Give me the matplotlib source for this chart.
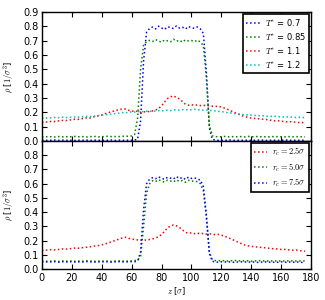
import numpy as np
import matplotlib
matplotlib.use("Agg")
import matplotlib.pyplot as plt

plt.rcParams['mathtext.fontset'] = 'cm'
plt.rcParams['font.family'] = ['DejaVu Sans']
plt.rcParams['font.size'] = 7

z = np.arange(0, 177, 2)

# ---- top panel: temperatures ----
rho_T07 = [0.005,0.006,0.004,0.005,0.007,0.005,0.004,0.006,0.005,0.005,0.006,0.004,0.005,0.007,0.005,0.006,
           0.004,0.005,0.006,0.005,0.004,0.006,0.005,0.007,0.005,0.004,0.006,0.005,0.005,0.006,0.005,0.007,
           0.012,0.14,0.56,0.76,0.785,
           0.795,0.782,0.801,0.789,0.778,0.797,0.792,0.785,0.803,0.788,0.794,0.781,0.799,0.790,0.786,0.796,
           0.782,0.75,0.48,0.09,0.012,
           0.006,0.005,0.004,0.006,0.005,0.007,0.005,0.004,0.006,0.005,0.005,0.006,0.004,0.005,0.007,0.005,
           0.006,0.004,0.005,0.006,0.005,0.004,0.006,0.005,0.007,0.005,0.004,0.006,0.005,0.005,0.006]
rho_T085 = [0.028,0.031,0.029,0.030,0.027,0.032,0.030,0.029,0.031,0.028,0.030,0.032,0.029,0.031,0.030,0.028,
            0.031,0.030,0.032,0.029,0.031,0.030,0.033,0.031,0.030,0.032,0.031,0.033,0.032,0.034,0.035,
            0.045,0.16,0.50,0.67,0.693,
            0.702,0.694,0.708,0.697,0.689,0.705,0.699,0.692,0.710,0.696,0.703,0.690,0.706,0.698,0.701,0.693,0.704,
            0.690,0.665,0.44,0.11,0.036,
            0.031,0.029,0.030,0.032,0.028,0.031,0.030,0.029,0.031,0.030,0.028,0.032,0.030,0.029,0.031,0.030,
            0.028,0.031,0.029,0.030,0.032,0.029,0.030,0.028,0.031,0.030,0.029,0.031,0.028,0.030,0.029]
rho_T11 = [0.128,0.134,0.131,0.137,0.135,0.141,0.139,0.144,0.142,0.148,0.146,0.152,0.150,0.157,0.155,0.162,
           0.160,0.168,0.170,0.177,0.181,0.190,0.195,0.204,0.208,0.215,0.218,0.226,0.222,0.214,0.210,0.205,
           0.208,0.200,0.204,0.202,0.207,0.210,0.216,0.226,0.245,0.272,0.296,0.308,0.315,0.303,0.294,0.275,
           0.256,0.250,0.254,0.248,0.252,0.247,0.250,0.245,0.248,0.243,0.241,0.243,0.236,0.230,0.222,0.212,
           0.203,0.194,0.185,0.176,0.170,0.164,0.160,0.158,0.155,0.156,0.151,0.150,0.146,0.144,0.140,0.141,
           0.136,0.138,0.133,0.135,0.131,0.132,0.128,0.129,0.125]
rho_T12 = [0.160,0.163,0.158,0.162,0.165,0.161,0.164,0.166,0.162,0.167,0.165,0.168,0.166,0.170,0.168,0.172,
           0.170,0.175,0.173,0.178,0.180,0.183,0.185,0.188,0.190,0.193,0.195,0.198,0.197,0.201,0.203,0.202,
           0.205,0.207,0.204,0.208,0.206,0.210,0.208,0.212,0.210,0.213,0.215,0.212,0.216,0.218,0.215,0.219,
           0.217,0.220,0.218,0.221,0.217,0.219,0.215,0.216,0.212,0.213,0.209,0.207,0.205,0.202,0.198,0.196,
           0.193,0.190,0.188,0.185,0.184,0.181,0.180,0.178,0.179,0.175,0.176,0.173,0.174,0.171,0.172,0.169,
           0.170,0.167,0.168,0.166,0.167,0.164,0.166,0.163,0.164]

# ---- bottom panel: cutoff radii ----
rho_rc25 = [0.130,0.135,0.132,0.137,0.134,0.139,0.137,0.142,0.140,0.145,0.143,0.148,0.146,0.151,0.150,0.154,
            0.156,0.160,0.163,0.166,0.170,0.176,0.183,0.190,0.197,0.205,0.212,0.220,0.224,0.216,0.212,0.207,
            0.205,0.202,0.206,0.203,0.208,0.212,0.218,0.228,0.243,0.265,0.290,0.303,0.310,0.304,0.292,0.276,
            0.258,0.252,0.255,0.249,0.253,0.248,0.251,0.246,0.249,0.244,0.242,0.244,0.238,0.232,0.224,0.214,
            0.205,0.195,0.186,0.176,0.168,0.163,0.160,0.157,0.155,0.153,0.151,0.149,0.146,0.144,0.142,0.141,
            0.138,0.139,0.135,0.136,0.133,0.134,0.130,0.128,0.126]
rho_rc50 = [0.055,0.057,0.054,0.056,0.058,0.055,0.053,0.057,0.056,0.054,0.058,0.055,0.057,0.054,0.056,0.058,
            0.055,0.057,0.054,0.056,0.055,0.058,0.056,0.054,0.057,0.055,0.058,0.056,0.057,0.055,0.058,0.060,
            0.062,0.09,0.30,0.53,0.60,
            0.622,0.615,0.628,0.618,0.611,0.625,0.619,0.613,0.627,0.616,0.622,0.610,0.624,0.617,0.620,0.614,
            0.60,0.55,0.36,0.12,0.066,
            0.060,0.058,0.061,0.059,0.057,0.060,0.058,0.061,0.059,0.057,0.060,0.058,0.056,0.059,0.057,0.060,
            0.058,0.056,0.059,0.057,0.058,0.056,0.059,0.057,0.058,0.056,0.059,0.057,0.058,0.056,0.058]
rho_rc75 = [0.050,0.052,0.049,0.051,0.053,0.050,0.048,0.052,0.051,0.049,0.053,0.050,0.052,0.049,0.051,0.053,
            0.050,0.052,0.049,0.051,0.050,0.053,0.051,0.049,0.052,0.050,0.053,0.051,0.052,0.050,0.053,0.052,
            0.056,0.12,0.42,0.60,0.632,
            0.642,0.635,0.648,0.638,0.631,0.645,0.639,0.633,0.650,0.636,0.644,0.630,0.646,0.637,0.641,0.634,
            0.625,0.58,0.38,0.11,0.055,
            0.050,0.048,0.051,0.049,0.052,0.050,0.048,0.051,0.049,0.052,0.050,0.048,0.051,0.049,0.047,0.050,
            0.048,0.051,0.049,0.047,0.050,0.048,0.051,0.049,0.047,0.050,0.048,0.051,0.049,0.047,0.050]

top_labels = [r'$T^{*}$ = 0.7', r'$T^{*}$ = 0.85', r'$T^{*}$ = 1.1', r'$T^{*}$ = 1.2']
bot_labels = [r'$r_c = 2.5\sigma$', r'$r_c = 5.0\sigma$', r'$r_c = 7.5\sigma$']

fig = plt.figure(figsize=(3.25, 3.0), dpi=100)
ax1 = fig.add_axes([0.129, 0.530, 0.828, 0.430])
ax2 = fig.add_axes([0.129, 0.103, 0.828, 0.427], sharex=ax1)

lw = 1.1
for vals, c, lab in zip([rho_T07, rho_T085, rho_T11, rho_T12], ['b', 'g', 'r', 'c'], top_labels):
    ax1.plot(z, vals, ls=':', color=c, lw=lw, label=lab)
for vals, c, lab in zip([rho_rc25, rho_rc50, rho_rc75], ['r', 'g', 'b'], bot_labels):
    ax2.plot(z, vals, ls=':', color=c, lw=lw, label=lab)

for ax in (ax1, ax2):
    ax.set_xlim(0, 180)
    ax.set_ylim(0, 0.9)
    ax.set_yticks(np.arange(0, 0.91, 0.1))
    ax.set_xticks(np.arange(0, 181, 20))
    ax.tick_params(direction='in', top=True, right=True, labelsize=7, length=3.5, width=0.8, pad=2.5)
    for s in ax.spines.values():
        s.set_linewidth(1.0)
    ax.set_ylabel(r'$\rho$ [$1/\sigma^3$]', fontsize=6, labelpad=5)
    leg = ax.legend(loc='upper right', fontsize=6, fancybox=False, framealpha=1,
                    edgecolor='black', handlelength=1.6, handletextpad=0.6, borderaxespad=0.25,
                    labelspacing=0.35, borderpad=0.35)
    leg.get_frame().set_linewidth(1.2)

ax1.tick_params(labelbottom=False)
ax2.set_yticks(np.arange(0, 0.91, 0.1))
ax2.set_yticklabels([f'{v:.1f}' for v in np.arange(0, 0.81, 0.1)] + [''])
ax2.set_xlabel(r'$z$ [$\sigma$]', fontsize=6, labelpad=2)

fig.savefig('out.png', dpi=100)
